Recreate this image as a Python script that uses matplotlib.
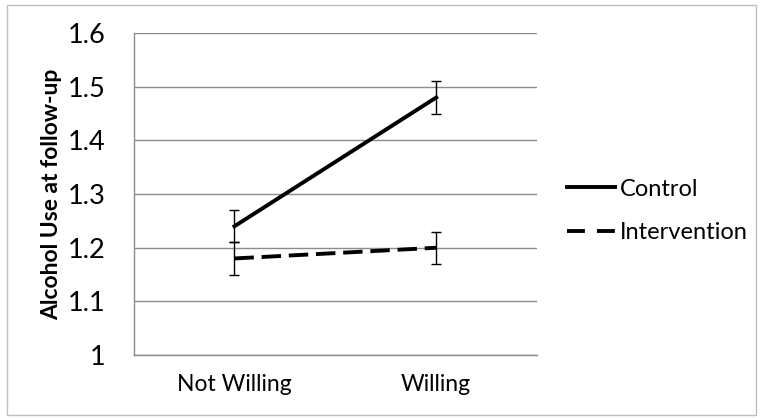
import numpy as np
import matplotlib.pyplot as plt
from matplotlib.patches import Rectangle
from matplotlib.lines import Line2D

plt.rcParams['font.family'] = ['Lato', 'DejaVu Sans']

categories = ["Not Willing", "Willing"]
control = [1.24, 1.48]
control_err = [0.03, 0.03]
intervention = [1.18, 1.20]
intervention_err = [0.03, 0.03]
yticks = [1, 1.1, 1.2, 1.3, 1.4, 1.5, 1.6]

fig = plt.figure(figsize=(7.6, 4.18), dpi=100)
ax = fig.add_axes([0.1757, 0.1507, 0.531, 0.770])

x = np.arange(len(categories))
grid_col = "#8c8c8c"
dash = (0, (5, 2))

ax.errorbar(x, control, yerr=control_err, color="black", lw=2.8,
            ecolor="black", elinewidth=1, capsize=3.5, capthick=1, zorder=3)
ax.errorbar(x, intervention, yerr=intervention_err, color="black", lw=2.8,
            ls=dash, ecolor="black", elinewidth=1, capsize=3.5,
            capthick=1, zorder=3)

ax.set_xlim(-0.5, 1.5)
ax.set_ylim(1, 1.6)
ax.set_yticks(yticks)
ax.set_yticklabels(["1", "1.1", "1.2", "1.3", "1.4", "1.5", "1.6"], fontsize=19.5)
ax.set_xticks(x)
ax.set_xticklabels(categories, fontsize=16.5)
ax.tick_params(length=0)
ax.tick_params(axis='y', pad=20)
ax.tick_params(axis='x', pad=14)
ax.yaxis.grid(True, color=grid_col, lw=1)
ax.set_axisbelow(True)
for s in ["top", "right"]:
    ax.spines[s].set_visible(False)
for s in ["left", "bottom"]:
    ax.spines[s].set_color(grid_col)
    ax.spines[s].set_linewidth(1)

ax.set_ylabel("Alcohol Use at follow-up", fontsize=16.5, fontweight="bold", labelpad=4)

handles = [Line2D([], [], color="black", lw=2.8),
           Line2D([], [], color="black", lw=2.8, ls=(0, (4.6, 3.1)))]
fig.legend(handles, ["Control", "Intervention"], loc="center left",
           bbox_to_anchor=(0.7337, 0.496), borderaxespad=0, frameon=False,
           fontsize=17, handlelength=2.03, handletextpad=0.21, labelspacing=0.94)

fig.patches.append(Rectangle((7/760, 3/418), 749/760, 410/418, transform=fig.transFigure,
                             fill=False, edgecolor="#bfbfbf", lw=1))

fig.savefig("out.png", dpi=100)
